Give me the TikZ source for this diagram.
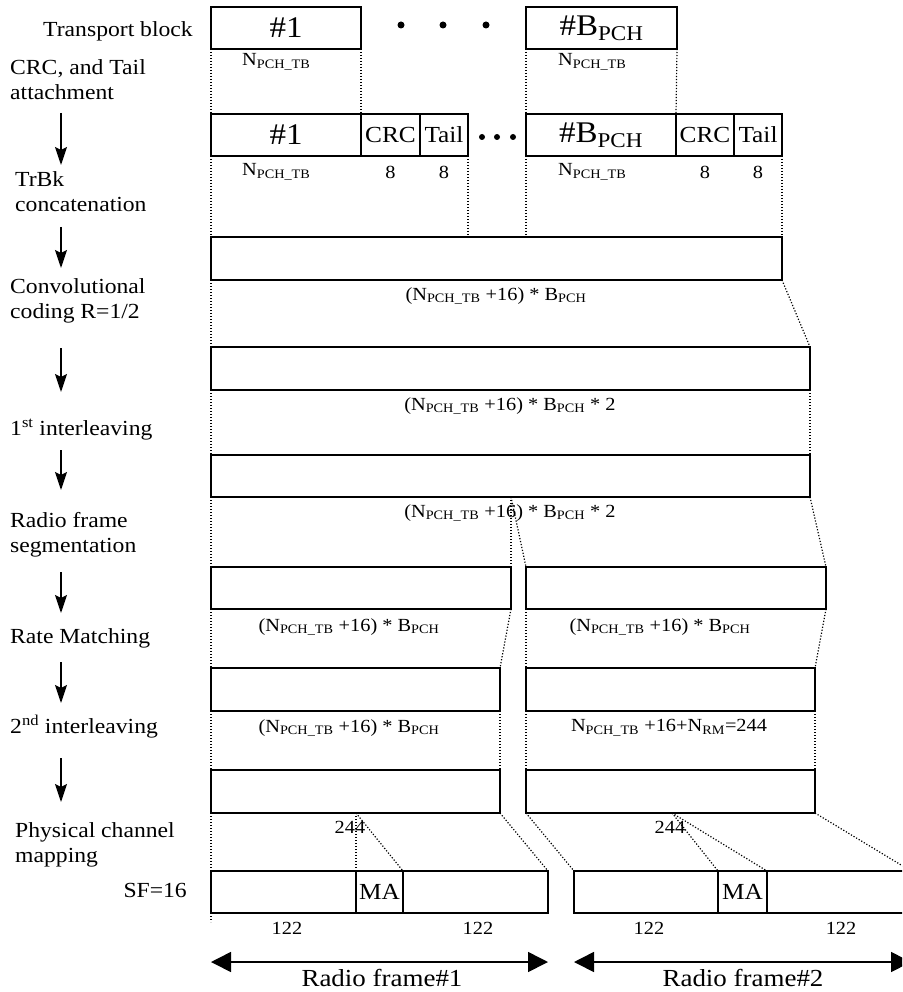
\documentclass[tikz,border=0pt]{standalone}
\usepackage{fontspec}
\setmainfont{Liberation Serif}[FakeStretch=1.1]
\usetikzlibrary{arrows.meta,positioning,calc}

\newcommand{\Ntb}{N\textsubscript{PCH\_TB}}
\newcommand{\Bpch}{B\textsubscript{PCH}}

\begin{document}
\begin{tikzpicture}[x=1pt, y=-1pt,
    blk/.style={draw, line width=1.5pt, inner sep=0pt, outer sep=0pt,
                anchor=north west},
    side/.style={font=\fontsize{21.5}{25}\selectfont, align=left,
                 anchor=base west, inner sep=0pt},
    big/.style={font=\fontsize{30}{30}\selectfont},
    mid/.style={font=\fontsize{23}{23}\selectfont},
    sz/.style={font=\fontsize{18.5}{18.5}\selectfont, inner sep=0pt},
    dots/.style={line width=1.2pt, dash pattern=on 1.2pt off 1.8pt},
    flow/.style={line width=1.6pt,
                 -{Stealth[length=18pt, width=12pt, inset=3pt]}},
    span/.style={line width=1.6pt,
                 {Triangle[length=20pt, width=20pt]}-{Triangle[length=20pt, width=20pt]}},
  ]
  \useasboundingbox (0,0) rectangle (902,992);
  \clip (0,0) rectangle (902,992);

  %% Step names on the left (base = last line)
  \node[side, anchor=base east] (tbl) at (193,37) {Transport block};
  \node[side] (crcl) at (10,100) {CRC, and Tail\\attachment};
  \node[side] (trbk) at (15,212) {TrBk\\concatenation};
  \node[side] (conv) at (10,318) {Convolutional\\coding R=1/2};
  \node[side] (il1l) at (10,435) {1\textsuperscript{st} interleaving};
  \node[side] (segl) at (10,552) {Radio frame\\segmentation};
  \node[side] (rml) at (10,643) {Rate Matching};
  \node[side] (il2l) at (10,733) {2\textsuperscript{nd} interleaving};
  \node[side] (pcm) at (15,862) {Physical channel\\mapping};
  \node[side, anchor=base east] (sf) at (187,897) {SF=16};

  %% Step arrows
  \foreach \i/\ya/\yb in {1/113/165, 2/227/268, 3/348/392, 4/450/490,
                          5/572/613, 6/662/703, 7/758/802}
    \draw[flow] (61,\ya) coordinate (fa\i) -- (61,\yb) coordinate (fb\i);

  %% Transport blocks
  \node[blk, big, minimum width=150pt, minimum height=42pt] (tb1) at (211,7) {\#1};
  \node[blk, big, minimum width=151pt, minimum height=42pt] (tbB) at (526,7) {\#\Bpch};
  \foreach \x in {401,443,486}
    \fill (\x,25) circle (3.5pt);
  \node[sz, anchor=west] (n1) at (242,62) {\Ntb};
  \node[sz, anchor=west] (n2) at (558,62) {\Ntb};

  %% CRC and tail attached
  \node[blk, big, minimum width=150pt, minimum height=42pt] (cb1) at (211,114) {\#1};
  \node[blk, mid, minimum width=59pt, minimum height=42pt, right=0pt of cb1, anchor=west] (crc1) {CRC};
  \node[blk, mid, minimum width=48pt, minimum height=42pt, right=0pt of crc1, anchor=west] (tail1) {Tail};
  \node[blk, big, minimum width=150pt, minimum height=42pt] (cbB) at (526,114) {\#\Bpch};
  \node[blk, mid, minimum width=58pt, minimum height=42pt, right=0pt of cbB, anchor=west] (crcB) {CRC};
  \node[blk, mid, minimum width=48pt, minimum height=42pt, right=0pt of crcB, anchor=west] (tailB) {Tail};
  \foreach \x in {482,497,513}
    \fill (\x,137) circle (3pt);
  \node[sz, anchor=west] (n3) at (242,172) {\Ntb};
  \node[sz, anchor=west] (n4) at (558,172) {\Ntb};
  \node[sz] (e1) at (crc1 |- 0,172) {8};
  \node[sz] (e2) at (tail1 |- 0,172) {8};
  \node[sz] (e3) at (crcB |- 0,172) {8};
  \node[sz] (e4) at (tailB |- 0,172) {8};

  %% Long blocks
  \node[blk, minimum width=571pt, minimum height=43pt] (cat) at (211,237) {};
  \node[sz] (l3) at (496,296) {(\Ntb{} +16) * \Bpch};
  \node[blk, minimum width=599pt, minimum height=43pt] (cod) at (211,347) {};
  \node[sz] (l4) at (510,406) {(\Ntb{} +16) * \Bpch{} * 2};
  \node[blk, minimum width=599pt, minimum height=42pt] (il1) at (211,455) {};
  \node[sz] (l5) at (510,513) {(\Ntb{} +16) * \Bpch{} * 2};

  %% Per radio frame
  \node[blk, minimum width=300pt, minimum height=42pt] (seg1) at (211,567) {};
  \node[blk, minimum width=300pt, minimum height=42pt] (seg2) at (526,567) {};
  \node[sz] (l6a) at (349,627) {(\Ntb{} +16) * \Bpch};
  \node[sz] (l6b) at (660,627) {(\Ntb{} +16) * \Bpch};
  \node[blk, minimum width=289pt, minimum height=43pt] (rm1) at (211,668) {};
  \node[blk, minimum width=289pt, minimum height=43pt] (rm2) at (526,668) {};
  \node[sz] (l7a) at (349,728) {(\Ntb{} +16) * \Bpch};
  \node[sz] (l7b) at (669,728) {\Ntb{} +16+N\textsubscript{RM}=244};
  \node[blk, minimum width=289pt, minimum height=43pt] (il2a) at (211,770) {};
  \node[blk, minimum width=289pt, minimum height=43pt] (il2b) at (526,770) {};
  \node[sz] (l8a) at (350,827) {244};
  \node[sz] (l8b) at (670,827) {244};

  %% Slots, SF=16
  \node[blk, minimum width=145pt, minimum height=42pt] (pa1) at (211,871) {};
  \node[blk, mid, minimum width=47pt, minimum height=42pt, right=0pt of pa1, anchor=west] (ma1) {MA};
  \node[blk, minimum width=145pt, minimum height=42pt, right=0pt of ma1, anchor=west] (pb1) {};
  \node[blk, minimum width=144pt, minimum height=42pt] (pa2) at (574,871) {};
  \node[blk, mid, minimum width=49pt, minimum height=42pt, right=0pt of pa2, anchor=west] (ma2) {MA};
  \node[blk, minimum width=144pt, minimum height=42pt, right=0pt of ma2, anchor=west] (pb2) {};
  \node[sz] (s1) at (287,928) {122};
  \node[sz] (s2) at (478,928) {122};
  \node[sz] (s3) at (649,928) {122};
  \node[sz] (s4) at (841,928) {122};

  %% Dotted guides
  \draw[dots] (tb1.south west) -- (cb1.north west);
  \draw[dots] (tb1.south east) -- (cb1.north east);
  \draw[dots] (tbB.south west) -- (cbB.north west);
  \draw[dots] (tbB.south east) -- (cbB.north east);
  \draw[dots] (cb1.south west) -- (cat.north west);
  \draw[dots] (tail1.south east) -- (tail1.south east |- cat.north);
  \draw[dots] (cbB.south west) -- (cbB.south west |- cat.north);
  \draw[dots] (tailB.south east) -- (cat.north east);
  \draw[dots] (cat.south west) -- (cod.north west);
  \draw[dots] (cat.south east) -- (cod.north east);
  \draw[dots] (cod.south west) -- (il1.north west);
  \draw[dots] (cod.south east) -- (il1.north east);
  \draw[dots] (il1.south west) -- (seg1.north west);
  \coordinate (cut1) at (seg1.north east |- il1.south);
  \draw[dots] (cut1) -- (seg1.north east);
  \draw[dots] (cut1) -- (seg2.north west);
  \draw[dots] (il1.south east) -- (seg2.north east);
  \draw[dots] (seg1.south west) -- (rm1.north west);
  \draw[dots] (seg1.south east) -- (rm1.north east);
  \draw[dots] (seg2.south west) -- (rm2.north west);
  \draw[dots] (seg2.south east) -- (rm2.north east);
  \draw[dots] (rm1.south west) -- (il2a.north west);
  \draw[dots] (rm1.south east) -- (il2a.north east);
  \draw[dots] (rm2.south west) -- (il2b.north west);
  \draw[dots] (rm2.south east) -- (il2b.north east);
  \draw[dots] (il2a.south west) -- (pa1.north west);
  \coordinate (lend) at (211,922);
  \draw[dots] (pa1.south west) -- (lend);
  \coordinate (cut2) at (pa1.north east |- il2a.south);
  \draw[dots] (cut2) -- (pa1.north east);
  \draw[dots] (cut2) -- (ma1.north east);
  \draw[dots] (il2a.south east) -- (pb1.north east);
  \draw[dots] (il2b.south west) -- (pa2.north west);
  \coordinate (cut3) at (672,813);
  \draw[dots] (cut3) -- (pa2.north east);
  \draw[dots] (cut3) -- (ma2.north east);
  \draw[dots] (il2b.south east) -- (pb2.north east);

  %% Radio frames
  \draw[span] (pa1.south west |- 0,962) -- (pb1.south east |- 0,962);
  \draw[span] (pa2.south west |- 0,962) -- (pb2.south east |- 0,962);
  \node[font=\fontsize{24.5}{24.5}\selectfont, inner sep=0pt] (rf1) at (382,978) {Radio frame\#1};
  \node[font=\fontsize{24.5}{24.5}\selectfont, inner sep=0pt] (rf2) at (743,978) {Radio frame\#2};
\end{tikzpicture}
\end{document}
